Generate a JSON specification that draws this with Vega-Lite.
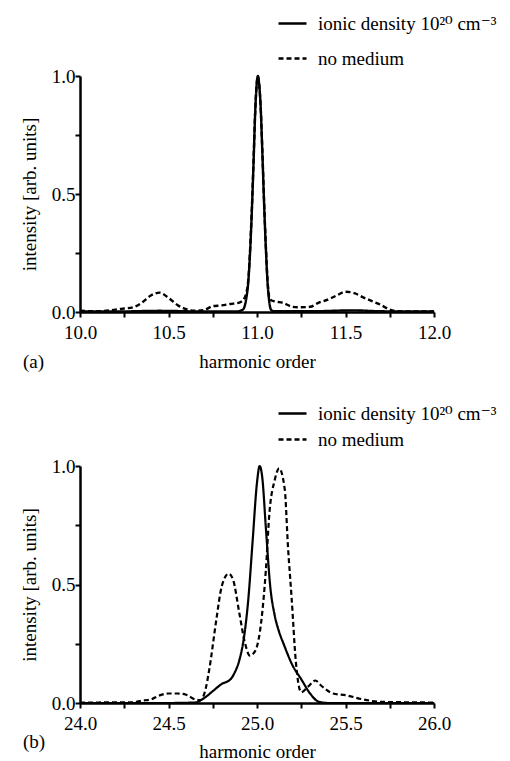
{
  "$schema": "https://vega.github.io/schema/vega-lite/v6.json",
  "background": "white",
  "padding": {"left": 20, "top": 8, "right": 5, "bottom": 0},
  "spacing": 26,
  "config": {
    "font": "Liberation Serif, DejaVu Serif, serif",
    "view": {"stroke": null},
    "axis": {
      "domainColor": "black", "domainWidth": 2.5, "tickColor": "black", "tickWidth": 2, "tickSize": 5,
      "labelFont": "Liberation Serif, DejaVu Serif, serif", "labelFontSize": 19, "labelColor": "black",
      "titleFont": "Liberation Serif, DejaVu Serif, serif", "titleFontSize": 19, "titleFontWeight": "normal", "titleColor": "black",
      "grid": false, "labelFlush": false, "labelOverlap": false
    },
    "legend": {
      "symbolType": "stroke", "symbolSize": 784, "symbolStrokeWidth": 2.5, "symbolStrokeColor": "black",
      "labelFont": "Liberation Serif, DejaVu Serif, serif", "labelFontSize": 19, "labelColor": "black", "labelOffset": 10, "labelLimit": 400,
      "padding": 0, "title": null
    },
    "title": {"font": "Liberation Serif, DejaVu Serif, serif", "fontSize": 19, "fontWeight": "normal", "color": "black"}
  },
  "datasets": {
    "a": [
      {"h": 10.0, "y": 0.003, "s": "ionic density 10²⁰ cm⁻³"},
      {"h": 10.2, "y": 0.002, "s": "ionic density 10²⁰ cm⁻³"},
      {"h": 10.45, "y": 0.005, "s": "ionic density 10²⁰ cm⁻³"},
      {"h": 10.7, "y": 0.002, "s": "ionic density 10²⁰ cm⁻³"},
      {"h": 10.88, "y": 0.002, "s": "ionic density 10²⁰ cm⁻³"},
      {"h": 10.92, "y": 0.01, "s": "ionic density 10²⁰ cm⁻³"},
      {"h": 10.94, "y": 0.06, "s": "ionic density 10²⁰ cm⁻³"},
      {"h": 10.95, "y": 0.12, "s": "ionic density 10²⁰ cm⁻³"},
      {"h": 10.96, "y": 0.24, "s": "ionic density 10²⁰ cm⁻³"},
      {"h": 10.97, "y": 0.41, "s": "ionic density 10²⁰ cm⁻³"},
      {"h": 10.98, "y": 0.62, "s": "ionic density 10²⁰ cm⁻³"},
      {"h": 10.99, "y": 0.85, "s": "ionic density 10²⁰ cm⁻³"},
      {"h": 11.0, "y": 0.98, "s": "ionic density 10²⁰ cm⁻³"},
      {"h": 11.005, "y": 1.0, "s": "ionic density 10²⁰ cm⁻³"},
      {"h": 11.01, "y": 0.98, "s": "ionic density 10²⁰ cm⁻³"},
      {"h": 11.02, "y": 0.88, "s": "ionic density 10²⁰ cm⁻³"},
      {"h": 11.03, "y": 0.68, "s": "ionic density 10²⁰ cm⁻³"},
      {"h": 11.04, "y": 0.46, "s": "ionic density 10²⁰ cm⁻³"},
      {"h": 11.05, "y": 0.27, "s": "ionic density 10²⁰ cm⁻³"},
      {"h": 11.06, "y": 0.12, "s": "ionic density 10²⁰ cm⁻³"},
      {"h": 11.07, "y": 0.04, "s": "ionic density 10²⁰ cm⁻³"},
      {"h": 11.08, "y": 0.008, "s": "ionic density 10²⁰ cm⁻³"},
      {"h": 11.1, "y": 0.003, "s": "ionic density 10²⁰ cm⁻³"},
      {"h": 11.3, "y": 0.003, "s": "ionic density 10²⁰ cm⁻³"},
      {"h": 11.55, "y": 0.007, "s": "ionic density 10²⁰ cm⁻³"},
      {"h": 11.7, "y": 0.003, "s": "ionic density 10²⁰ cm⁻³"},
      {"h": 12.0, "y": 0.002, "s": "ionic density 10²⁰ cm⁻³"},
      {"h": 10.0, "y": 0.005, "s": "no medium"},
      {"h": 10.1, "y": 0.003, "s": "no medium"},
      {"h": 10.2, "y": 0.01, "s": "no medium"},
      {"h": 10.25, "y": 0.015, "s": "no medium"},
      {"h": 10.3, "y": 0.02, "s": "no medium"},
      {"h": 10.35, "y": 0.04, "s": "no medium"},
      {"h": 10.4, "y": 0.07, "s": "no medium"},
      {"h": 10.45, "y": 0.082, "s": "no medium"},
      {"h": 10.5, "y": 0.06, "s": "no medium"},
      {"h": 10.55, "y": 0.03, "s": "no medium"},
      {"h": 10.6, "y": 0.012, "s": "no medium"},
      {"h": 10.65, "y": 0.005, "s": "no medium"},
      {"h": 10.7, "y": 0.008, "s": "no medium"},
      {"h": 10.75, "y": 0.025, "s": "no medium"},
      {"h": 10.8, "y": 0.028, "s": "no medium"},
      {"h": 10.85, "y": 0.034, "s": "no medium"},
      {"h": 10.9, "y": 0.04, "s": "no medium"},
      {"h": 10.93, "y": 0.06, "s": "no medium"},
      {"h": 10.95, "y": 0.13, "s": "no medium"},
      {"h": 10.96, "y": 0.25, "s": "no medium"},
      {"h": 10.97, "y": 0.42, "s": "no medium"},
      {"h": 10.98, "y": 0.63, "s": "no medium"},
      {"h": 10.99, "y": 0.85, "s": "no medium"},
      {"h": 11.0, "y": 0.98, "s": "no medium"},
      {"h": 11.005, "y": 1.0, "s": "no medium"},
      {"h": 11.01, "y": 0.98, "s": "no medium"},
      {"h": 11.02, "y": 0.88, "s": "no medium"},
      {"h": 11.03, "y": 0.69, "s": "no medium"},
      {"h": 11.04, "y": 0.47, "s": "no medium"},
      {"h": 11.05, "y": 0.28, "s": "no medium"},
      {"h": 11.06, "y": 0.13, "s": "no medium"},
      {"h": 11.07, "y": 0.06, "s": "no medium"},
      {"h": 11.08, "y": 0.05, "s": "no medium"},
      {"h": 11.1, "y": 0.045, "s": "no medium"},
      {"h": 11.15, "y": 0.038, "s": "no medium"},
      {"h": 11.2, "y": 0.022, "s": "no medium"},
      {"h": 11.25, "y": 0.02, "s": "no medium"},
      {"h": 11.3, "y": 0.022, "s": "no medium"},
      {"h": 11.35, "y": 0.04, "s": "no medium"},
      {"h": 11.4, "y": 0.052, "s": "no medium"},
      {"h": 11.45, "y": 0.07, "s": "no medium"},
      {"h": 11.5, "y": 0.086, "s": "no medium"},
      {"h": 11.55, "y": 0.08, "s": "no medium"},
      {"h": 11.6, "y": 0.062, "s": "no medium"},
      {"h": 11.65, "y": 0.046, "s": "no medium"},
      {"h": 11.7, "y": 0.03, "s": "no medium"},
      {"h": 11.75, "y": 0.01, "s": "no medium"},
      {"h": 11.8, "y": 0.003, "s": "no medium"},
      {"h": 12.0, "y": 0.002, "s": "no medium"}
    ],
    "b": [
      {"h": 24.0, "y": 0.0, "s": "ionic density 10²⁰ cm⁻³"},
      {"h": 24.5, "y": 0.0, "s": "ionic density 10²⁰ cm⁻³"},
      {"h": 24.65, "y": 0.002, "s": "ionic density 10²⁰ cm⁻³"},
      {"h": 24.7, "y": 0.02, "s": "ionic density 10²⁰ cm⁻³"},
      {"h": 24.75, "y": 0.05, "s": "ionic density 10²⁰ cm⁻³"},
      {"h": 24.8, "y": 0.08, "s": "ionic density 10²⁰ cm⁻³"},
      {"h": 24.85, "y": 0.1, "s": "ionic density 10²⁰ cm⁻³"},
      {"h": 24.875, "y": 0.13, "s": "ionic density 10²⁰ cm⁻³"},
      {"h": 24.9, "y": 0.18, "s": "ionic density 10²⁰ cm⁻³"},
      {"h": 24.925, "y": 0.27, "s": "ionic density 10²⁰ cm⁻³"},
      {"h": 24.95, "y": 0.43, "s": "ionic density 10²⁰ cm⁻³"},
      {"h": 24.975, "y": 0.68, "s": "ionic density 10²⁰ cm⁻³"},
      {"h": 25.0, "y": 0.93, "s": "ionic density 10²⁰ cm⁻³"},
      {"h": 25.015, "y": 1.0, "s": "ionic density 10²⁰ cm⁻³"},
      {"h": 25.03, "y": 0.95, "s": "ionic density 10²⁰ cm⁻³"},
      {"h": 25.05, "y": 0.74, "s": "ionic density 10²⁰ cm⁻³"},
      {"h": 25.075, "y": 0.49, "s": "ionic density 10²⁰ cm⁻³"},
      {"h": 25.1, "y": 0.37, "s": "ionic density 10²⁰ cm⁻³"},
      {"h": 25.125, "y": 0.3, "s": "ionic density 10²⁰ cm⁻³"},
      {"h": 25.15, "y": 0.25, "s": "ionic density 10²⁰ cm⁻³"},
      {"h": 25.2, "y": 0.16, "s": "ionic density 10²⁰ cm⁻³"},
      {"h": 25.25, "y": 0.1, "s": "ionic density 10²⁰ cm⁻³"},
      {"h": 25.3, "y": 0.04, "s": "ionic density 10²⁰ cm⁻³"},
      {"h": 25.35, "y": 0.005, "s": "ionic density 10²⁰ cm⁻³"},
      {"h": 25.4, "y": 0.0, "s": "ionic density 10²⁰ cm⁻³"},
      {"h": 26.0, "y": 0.0, "s": "ionic density 10²⁰ cm⁻³"},
      {"h": 24.0, "y": 0.002, "s": "no medium"},
      {"h": 24.3, "y": 0.003, "s": "no medium"},
      {"h": 24.35, "y": 0.01, "s": "no medium"},
      {"h": 24.4, "y": 0.015, "s": "no medium"},
      {"h": 24.45, "y": 0.032, "s": "no medium"},
      {"h": 24.5, "y": 0.04, "s": "no medium"},
      {"h": 24.55, "y": 0.04, "s": "no medium"},
      {"h": 24.6, "y": 0.035, "s": "no medium"},
      {"h": 24.65, "y": 0.015, "s": "no medium"},
      {"h": 24.68, "y": 0.012, "s": "no medium"},
      {"h": 24.71, "y": 0.06, "s": "no medium"},
      {"h": 24.73, "y": 0.14, "s": "no medium"},
      {"h": 24.77, "y": 0.35, "s": "no medium"},
      {"h": 24.8, "y": 0.49, "s": "no medium"},
      {"h": 24.84, "y": 0.546, "s": "no medium"},
      {"h": 24.865, "y": 0.52, "s": "no medium"},
      {"h": 24.9, "y": 0.38, "s": "no medium"},
      {"h": 24.93, "y": 0.26, "s": "no medium"},
      {"h": 24.96, "y": 0.2, "s": "no medium"},
      {"h": 24.99, "y": 0.22, "s": "no medium"},
      {"h": 25.025, "y": 0.35, "s": "no medium"},
      {"h": 25.05, "y": 0.56, "s": "no medium"},
      {"h": 25.07, "y": 0.8, "s": "no medium"},
      {"h": 25.1, "y": 0.94, "s": "no medium"},
      {"h": 25.125, "y": 0.99, "s": "no medium"},
      {"h": 25.157, "y": 0.9, "s": "no medium"},
      {"h": 25.175, "y": 0.66, "s": "no medium"},
      {"h": 25.195, "y": 0.45, "s": "no medium"},
      {"h": 25.22, "y": 0.17, "s": "no medium"},
      {"h": 25.25, "y": 0.045, "s": "no medium"},
      {"h": 25.29, "y": 0.07, "s": "no medium"},
      {"h": 25.33, "y": 0.095, "s": "no medium"},
      {"h": 25.36, "y": 0.075, "s": "no medium"},
      {"h": 25.43, "y": 0.04, "s": "no medium"},
      {"h": 25.5, "y": 0.033, "s": "no medium"},
      {"h": 25.6, "y": 0.015, "s": "no medium"},
      {"h": 25.7, "y": 0.005, "s": "no medium"},
      {"h": 26.0, "y": 0.002, "s": "no medium"}
    ]
  },
  "vconcat": [
    {
      "width": 354, "height": 236,
      "title": {"text": "(a)", "orient": "bottom", "anchor": "start", "frame": "group", "dx": -57, "offset": -18},
      "data": {"name": "a"},
      "mark": {"type": "line", "interpolate": "monotone", "strokeWidth": 2.4, "color": "black"},
      "encoding": {
        "x": {"field": "h", "type": "quantitative", "scale": {"domain": [10, 12], "nice": false, "zero": false},
          "axis": {"title": "harmonic order", "values": [10, 10.25, 10.5, 10.75, 11, 11.25, 11.5, 11.75, 12], "labelExpr": "(datum.value * 2) % 1 == 0 ? format(datum.value, '.1f') : ''", "labelPadding": 6, "titlePadding": 10}},
        "y": {"field": "y", "type": "quantitative", "scale": {"domain": [0, 1], "nice": false},
          "axis": {"title": "intensity [arb. units]", "values": [0, 0.25, 0.5, 0.75, 1], "labelExpr": "datum.value % 0.5 == 0 ? format(datum.value, '.1f') : ''", "labelPadding": 0, "titlePadding": 12}},
        "strokeDash": {"field": "s", "type": "nominal",
          "scale": {"domain": ["ionic density 10²⁰ cm⁻³", "no medium"], "range": [[1, 0], [5, 3]]},
          "legend": {"orient": "none", "legendX": 197, "legendY": -68, "rowPadding": 9}}
      }
    },
    {
      "width": 354, "height": 237,
      "title": {"text": "(b)", "orient": "bottom", "anchor": "start", "frame": "group", "dx": -57, "offset": -28},
      "data": {"name": "b"},
      "mark": {"type": "line", "interpolate": "monotone", "strokeWidth": 2.2, "color": "black"},
      "encoding": {
        "x": {"field": "h", "type": "quantitative", "scale": {"domain": [24, 26], "nice": false, "zero": false},
          "axis": {"title": "harmonic order", "values": [24, 24.25, 24.5, 24.75, 25, 25.25, 25.5, 25.75, 26], "labelExpr": "(datum.value * 2) % 1 == 0 ? format(datum.value, '.1f') : ''", "labelPadding": 6, "titlePadding": 9}},
        "y": {"field": "y", "type": "quantitative", "scale": {"domain": [0, 1], "nice": false},
          "axis": {"title": "intensity [arb. units]", "values": [0, 0.25, 0.5, 0.75, 1], "labelExpr": "datum.value % 0.5 == 0 ? format(datum.value, '.1f') : ''", "labelPadding": 0, "titlePadding": 12}},
        "strokeDash": {"field": "s", "type": "nominal",
          "scale": {"domain": ["ionic density 10²⁰ cm⁻³", "no medium"], "range": [[1, 0], [5, 3]]},
          "legend": {"orient": "none", "legendX": 197, "legendY": -68, "rowPadding": -6}}
      }
    }
  ],
  "resolve": {"scale": {"strokeDash": "independent"}, "legend": {"strokeDash": "independent"}}
}
